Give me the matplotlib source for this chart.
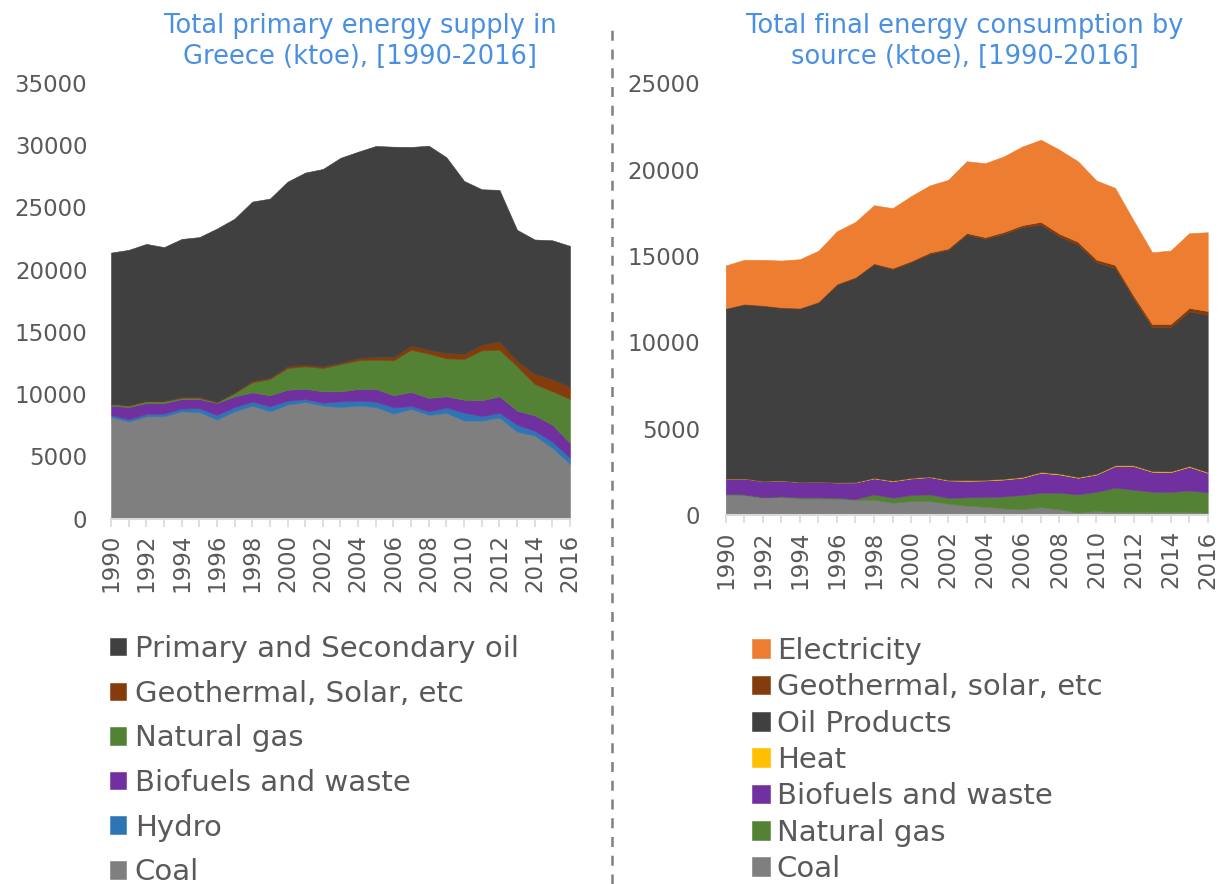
import matplotlib
matplotlib.use("Agg")
import matplotlib.pyplot as plt
from matplotlib.lines import Line2D

years = list(range(1990, 2017))

# Total primary energy supply, Greece (ktoe)
tpes_labels = ["Coal", "Hydro", "Biofuels and waste", "Natural gas",
               "Geothermal, Solar, etc", "Primary and Secondary oil"]
tpes_coal = [8160, 7790, 8210, 8210, 8610, 8560, 7950, 8610, 9070, 8610, 9150, 9360, 9070, 8960,
             9070, 8960, 8430, 8800, 8320, 8480, 7870, 7870, 8110, 6980, 6660, 5670, 4390]
tpes_hydro = [150, 190, 190, 220, 230, 300, 370, 340, 320, 400, 320, 230, 240, 450,
              400, 430, 490, 240, 290, 430, 640, 350, 380, 560, 380, 500, 480]
tpes_bio = [760, 980, 880, 850, 760, 740, 960, 870, 750, 890, 880, 840, 910, 810,
            940, 1020, 980, 1130, 1080, 910, 1040, 1280, 1330, 1130, 1250, 1370, 1200]
tpes_gas = [110, 110, 140, 140, 90, 90, 60, 270, 800, 1310, 1740, 1800, 1870, 2190,
            2300, 2350, 2810, 3390, 3550, 3050, 3270, 4010, 3740, 3560, 2520, 2680, 3540]
tpes_geo = [50, 50, 50, 50, 75, 75, 50, 50, 110, 110, 140, 130, 140, 100,
            190, 220, 270, 350, 320, 430, 420, 460, 670, 450, 800, 990, 960]
tpes_oil = [12140, 12470, 12600, 12340, 12700, 12850, 13910, 13960, 14420, 14390, 14840, 15440,
            15860, 16480, 16580, 16960, 16900, 15950, 16400, 15730, 13890, 12490, 12180,
            10520, 10810, 11150, 11340]

# Total final energy consumption by source (ktoe)
tfc_labels = ["Coal", "Natural gas", "Biofuels and waste", "Heat", "Oil Products",
              "Geothermal, solar, etc", "Electricity"]
tfc_coal = [1155, 1155, 1000, 1040, 960, 960, 940, 885, 885, 710, 810, 810, 655, 540,
            480, 385, 330, 460, 330, 135, 230, 175, 175, 175, 175, 175, 135]
tfc_gas = [60, 40, 40, 40, 60, 60, 60, 40, 310, 290, 345, 385, 345, 480,
           560, 690, 830, 830, 960, 1060, 1115, 1405, 1290, 1175, 1155, 1250, 1175]
tfc_bio = [885, 925, 925, 925, 885, 905, 885, 960, 925, 960, 960, 1000, 1000, 960,
           960, 980, 1000, 1155, 1060, 960, 1000, 1250, 1365, 1155, 1155, 1365, 1135]
tfc_heat = [0, 0, 0, 0, 0, 0, 0, 20, 30, 30, 30, 30, 30, 35,
            35, 40, 40, 45, 45, 40, 40, 45, 45, 40, 40, 45, 40]
tfc_oil = [9840, 10070, 10150, 9990, 10050, 10390, 11460, 11830, 12370, 12250, 12500, 12900,
           13330, 14230, 13960, 14190, 14470, 14340, 13740, 13470, 12250, 11440, 9650,
           8330, 8350, 8960, 9120]
tfc_geo = [40, 40, 40, 40, 40, 40, 50, 50, 60, 70, 70, 80, 80, 90,
           100, 110, 120, 150, 160, 160, 160, 170, 180, 190, 190, 200, 210]
tfc_elec = [2470, 2550, 2620, 2700, 2820, 2950, 3040, 3190, 3360, 3460, 3750, 3880, 3970, 4150,
            4280, 4370, 4550, 4750, 4860, 4660, 4570, 4460, 4350, 4150, 4250, 4320, 4560]

tpes_colors = ["#7f7f7f", "#2e75b6", "#7030a0", "#548235", "#843c0c", "#404040"]
tfc_colors = ["#7f7f7f", "#548235", "#7030a0", "#ffc000", "#404040", "#843c0c", "#ed7d31"]

text_col = "#595959"
title_col = "#4a90e2"
axis_col = "#d9d9d9"

W, H = 1221, 884
fig = plt.figure(figsize=(W / 100, H / 100), dpi=100)


def style_axis(ax, ymax, ystep, ypad):
    ax.set_xlim(1990, 2016)
    ax.set_ylim(0, ymax)
    ax.set_yticks(range(0, ymax + 1, ystep))
    ax.set_xticks(years)
    ax.set_xticklabels([str(y) if y % 2 == 0 else "" for y in years], rotation=90)
    for s in ["top", "right", "left"]:
        ax.spines[s].set_visible(False)
    ax.spines["bottom"].set_color(axis_col)
    ax.spines["bottom"].set_linewidth(1.5)
    ax.tick_params(axis="x", colors=axis_col, length=6, width=1.2, pad=5,
                   labelcolor=text_col, labelsize=16.5)
    ax.tick_params(axis="y", length=0, pad=ypad, labelcolor=text_col, labelsize=16.5)


# left chart
ax1 = fig.add_axes([111 / W, 1 - 518.5 / H, 459 / W, 435.5 / H])
ax1.stackplot(years, tpes_coal, tpes_hydro, tpes_bio, tpes_gas, tpes_geo, tpes_oil,
              colors=tpes_colors, labels=tpes_labels, linewidth=0.4,
              edgecolor="face")
style_axis(ax1, 35000, 5000, 17)

# right chart
ax2 = fig.add_axes([725.7 / W, 1 - 515 / H, 482 / W, 431.7 / H])
ax2.stackplot(years, tfc_coal, tfc_gas, tfc_bio, tfc_heat, tfc_oil, tfc_geo, tfc_elec,
              colors=tfc_colors, labels=tfc_labels, linewidth=0.4,
              edgecolor="face")
style_axis(ax2, 25000, 5000, 18.5)

# titles
fig.text(360 / W, 1 - 26 / H, "Total primary energy supply in", color=title_col,
         fontsize=18.5, ha="center", va="center")
fig.text(360 / W, 1 - 57 / H, "Greece (ktoe), [1990-2016]", color=title_col,
         fontsize=18.5, ha="center", va="center")
fig.text(965 / W, 1 - 26 / H, "Total final energy consumption by", color=title_col,
         fontsize=18.5, ha="center", va="center")
fig.text(965 / W, 1 - 57 / H, "source (ktoe), [1990-2016]", color=title_col,
         fontsize=18.5, ha="center", va="center")

# legends
h1, l1 = ax1.get_legend_handles_labels()
leg1 = ax1.legend(h1[::-1], l1[::-1], loc="upper left",
                  bbox_to_anchor=(110 / W, 1 - 635 / H), bbox_transform=fig.transFigure,
                  frameon=False, fontsize=21, labelcolor=text_col,
                  handlelength=0.55, handleheight=0.55, handletextpad=0.3,
                  labelspacing=0.57, borderpad=0, borderaxespad=0)
h2, l2 = ax2.get_legend_handles_labels()
leg2 = ax2.legend(h2[::-1], l2[::-1], loc="upper left",
                  bbox_to_anchor=(752 / W, 1 - 637 / H), bbox_transform=fig.transFigure,
                  frameon=False, fontsize=21, labelcolor=text_col,
                  handlelength=0.6, handleheight=0.6, handletextpad=0.25,
                  labelspacing=0.285, borderpad=0, borderaxespad=0)

# dashed divider
fig.add_artist(Line2D([612 / W, 612 / W], [0, 1 - 28 / H], transform=fig.transFigure,
                      color="#808080", linewidth=1.8, linestyle=(0, (4, 3.5))))

fig.savefig("out.png", dpi=100, facecolor="white")
